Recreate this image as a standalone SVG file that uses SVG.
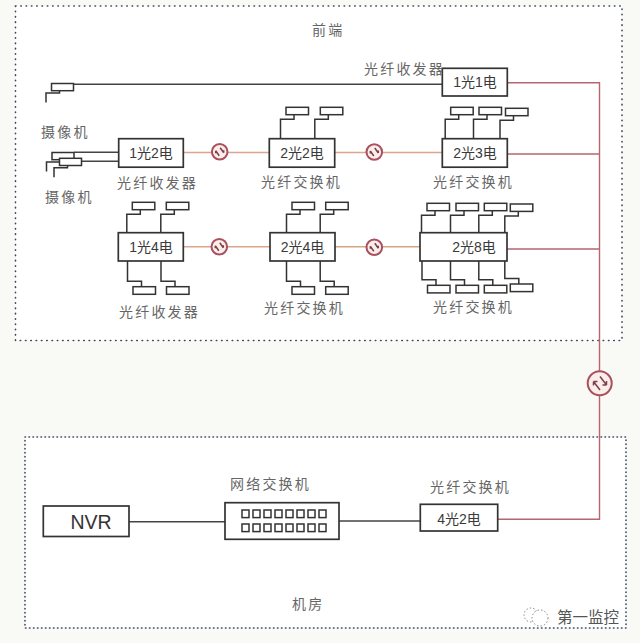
<svg xmlns="http://www.w3.org/2000/svg" width="640" height="643" viewBox="0 0 640 643">
<style>
text{font-family:"Liberation Sans","Noto Sans CJK SC",sans-serif}
.zone{fill:#fff;stroke:#3c4660;stroke-width:1.6;stroke-linecap:round}
.box{fill:#fff;stroke:#333;stroke-width:1.7}
.port{fill:#fff;stroke:#333;stroke-width:1.5}
.leg{fill:none;stroke:#333;stroke-width:1.5}
.dark{fill:none;stroke:#444;stroke-width:1.4}
.red{fill:none;stroke:#b5666e;stroke-width:1.4}
.org{fill:none;stroke:#dca68c;stroke-width:1.6}
.tan{fill:none;stroke:#d2a784;stroke-width:1.6}
.lbl{font-size:14px;fill:#666;letter-spacing:2.200px}
.val{font-size:14px;fill:#3a3a3a;text-anchor:middle}
.circ{fill:#fbeeea;stroke:#a9505f;stroke-width:2}
.arr{fill:none;stroke:#7c3f4a;stroke-width:1.5}
</style>
<defs>
<g id="up"><path class="leg" d="M8,7V12H-5.500V33"/><rect class="port" width="22.500" height="7.400"/></g>
<g id="dn"><path class="leg" d="M8.500,0V-5.500H-5.500V-28"/><rect class="port" width="22.500" height="7.600"/></g>
<g id="cam"><path class="leg" d="M8,7V9.500H-5.500V19"/><rect class="port" width="22" height="7.200"/></g>
<g id="sw"><circle class="circ" r="7.800"/><path class="arr" d="M-4,-1L-0.500,4M-4,-1V1.500M0.500,-4L4,1M4,1V-1.500"/></g>
<rect id="p" width="7" height="7.600" fill="#fff" stroke="#333" stroke-width="1.500"/>
</defs>
<rect width="640" height="643" fill="#f9faf5"/>
<rect class="zone" x="15.500" y="6" width="606.500" height="334.500" stroke-dasharray="0.5 4.800"/>
<rect class="zone" x="25" y="437" width="601" height="191" stroke-dasharray="0.5 3.500"/>
<g id="connectors">
<path class="dark" d="M74,84.300H442M74,152.300H119M81,161.300H119M127,521.700H225M337,521H421"/>
<path class="red" d="M507,82.700H599.500V519.300H498M507,154H599.500M507,249H599.500"/>
<path class="org" d="M183,152.500H270M335,152.500H442M183,246.700H270"/>
<path class="tan" d="M335,246.700H420"/>
</g>
<g id="cam1"><use href="#cam" x="51.500" y="83.500"/></g>
<g id="cam2"><use href="#cam" x="52" y="152.500"/></g>
<g id="cam3"><use href="#cam" x="59.500" y="158.300"/></g>
<g id="n1g1d"><rect class="box" x="442.300" y="68.300" width="65" height="27.700"/><text class="val" x="475" y="87">1光1电</text></g>
<g id="n1g2d"><rect class="box" x="118.700" y="138.700" width="64.600" height="28.500"/><text class="val" x="151" y="158">1光2电</text></g>
<g id="n2g2d"><use href="#up" x="286" y="107.300"/><use href="#up" x="320.300" y="107.300"/><rect class="box" x="269.300" y="138.700" width="65.400" height="28.500"/><text class="val" x="302" y="158">2光2电</text></g>
<g id="n2g3d"><use href="#up" x="450.700" y="107.300"/><use href="#up" x="479" y="107.300"/><use href="#up" x="505.500" y="108.300"/><rect class="box" x="442.300" y="138.700" width="65" height="28.500"/><text class="val" x="475" y="158">2光3电</text></g>
<g id="n1g4d"><use href="#up" x="132.300" y="202.300"/><use href="#up" x="166.300" y="202.300"/><use href="#dn" x="133" y="286.700"/><use href="#dn" x="166.500" y="286.700"/><rect class="box" x="118.300" y="232.700" width="65" height="28.300"/><text class="val" x="151" y="252">1光4电</text></g>
<g id="n2g4d"><use href="#up" x="292" y="202.300"/><use href="#up" x="325.700" y="202.300"/><use href="#dn" x="292" y="286.700"/><use href="#dn" x="325.700" y="286.700"/><rect class="box" x="270" y="232.700" width="65" height="28.300"/><text class="val" x="302.500" y="252">2光4电</text></g>
<g id="n2g8d"><use href="#up" x="427" y="203.300"/><use href="#up" x="456" y="203.300"/><use href="#up" x="484.300" y="203.300"/><use href="#up" x="510.300" y="204"/><use href="#dn" x="427.500" y="285.300"/><use href="#dn" x="456" y="285.300"/><use href="#dn" x="484.300" y="285.300"/><use href="#dn" x="510.300" y="284"/><rect class="box" x="420" y="232.700" width="87" height="28.300"/><text class="val" x="474" y="252">2光8电</text></g>
<g id="nvr"><rect class="box" x="43.300" y="506" width="85.700" height="30.500"/><text x="91" y="529" font-size="19.500" fill="#333" text-anchor="middle">NVR</text></g>
<g id="netswitch"><rect class="box" x="225" y="502.700" width="114" height="36.600"/>
<use href="#p" x="242" y="510"/><use href="#p" x="253" y="510"/><use href="#p" x="264" y="510"/><use href="#p" x="275" y="510"/><use href="#p" x="286" y="510"/><use href="#p" x="297" y="510"/><use href="#p" x="308" y="510"/><use href="#p" x="319" y="510"/>
<use href="#p" x="242" y="524"/><use href="#p" x="253" y="524"/><use href="#p" x="264" y="524"/><use href="#p" x="275" y="524"/><use href="#p" x="286" y="524"/><use href="#p" x="297" y="524"/><use href="#p" x="308" y="524"/><use href="#p" x="319" y="524"/></g>
<g id="n4g2d"><rect class="box" x="420.300" y="504.300" width="77.400" height="26.700"/><text class="val" x="459" y="524">4光2电</text></g>
<g id="s1"><use href="#sw" x="219.700" y="151.700"/></g>
<g id="s2"><use href="#sw" x="374.300" y="152"/></g>
<g id="s3"><use href="#sw" x="219.300" y="246.700"/></g>
<g id="s4"><use href="#sw" x="374.300" y="247.300"/></g>
<g id="s5"><circle class="circ" cx="599.700" cy="383.300" r="12"/><path class="arr" d="M593.500,381.500L600,390M593.500,381.500V385.500M593.500,381.500H597.500M600,376.500L606.500,385M606.500,385V381M606.500,385H602.500"/></g>
<g id="labels">
<text class="lbl" x="312" y="35">前端</text>
<text class="lbl" x="364" y="74">光纤收发器</text>
<text class="lbl" x="41" y="137">摄像机</text>
<text class="lbl" x="45" y="202">摄像机</text>
<text class="lbl" x="117" y="188">光纤收发器</text>
<text class="lbl" x="261" y="187">光纤交换机</text>
<text class="lbl" x="433" y="187">光纤交换机</text>
<text class="lbl" x="119" y="317">光纤收发器</text>
<text class="lbl" x="264" y="313">光纤交换机</text>
<text class="lbl" x="433" y="312">光纤交换机</text>
<text class="lbl" x="230" y="489">网络交换机</text>
<text class="lbl" x="430" y="492">光纤交换机</text>
<text class="lbl" x="292" y="609">机房</text>
</g>
<g id="watermark"><circle cx="531" cy="615" r="7" fill="none" stroke="#777" stroke-width="0.900" stroke-dasharray="1.500 2"/><circle cx="540" cy="618" r="8" fill="#fff" stroke="#777" stroke-width="0.900" stroke-dasharray="1.500 2"/><text x="557" y="622.500" font-size="15.500" fill="#555">第一监控</text></g>
</svg>
